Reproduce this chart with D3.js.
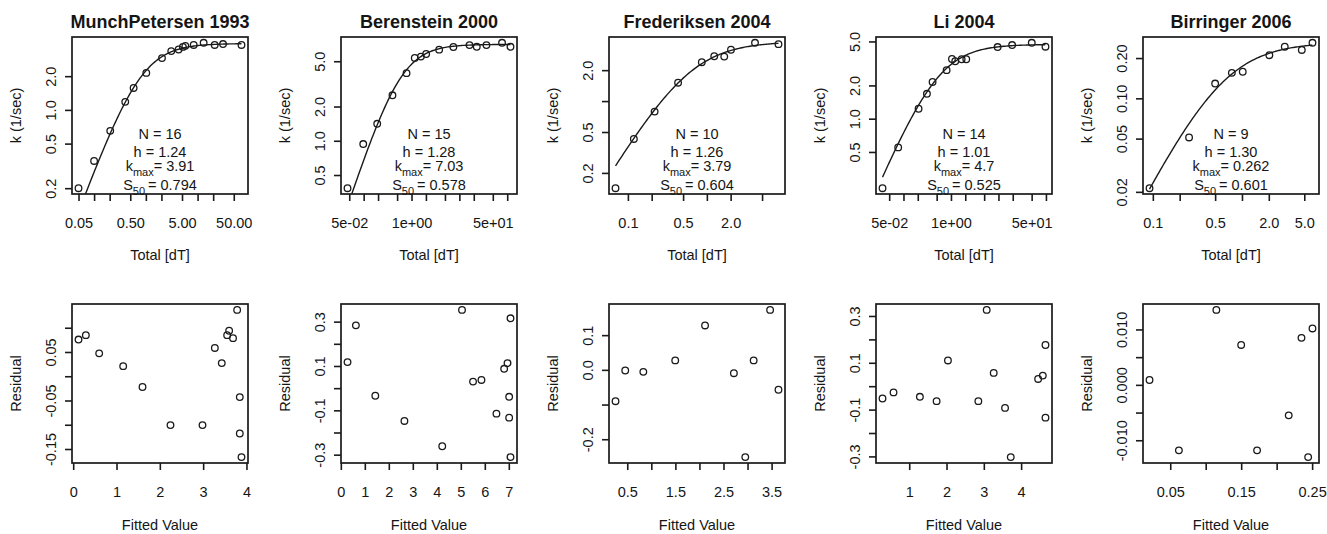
<!DOCTYPE html>
<html>
<head>
<meta charset="utf-8">
<script src="https://cdn.jsdelivr.net/npm/d3@7"></script>
<style>
  body { margin: 0; background: #fff; }
  text { font-family: "Liberation Sans", Arial, Helvetica, sans-serif; fill: #151515; }
</style>
</head>
<body>
<svg id="chart"></svg>
<script>
// Hill fits per study: k vs total dT (top row) and residuals vs fitted (bottom row)

const studies = ["MunchPetersen 1993", "Berenstein 2000", "Frederiksen 2004", "Li 2004", "Birringer 2006"];

// top row: measured rate k against total [dT]
const totalDT = [
  [0.05, 0.1, 0.205, 0.4, 0.58, 1.02, 2.05, 3.1, 4.3, 5.2, 5.8, 8.4, 13.1, 21.4, 31, 70.5],
  [0.046, 0.098, 0.192, 0.40, 0.787, 1.17, 1.57, 2.02, 3.78, 7.5, 16.3, 23.1, 36.8, 78, 117],
  [0.0697, 0.119, 0.218, 0.432, 0.863, 1.24, 1.66, 2.02, 4.07, 8.07],
  [0.0362, 0.0774, 0.208, 0.312, 0.41, 0.81, 1.05, 1.23, 1.68, 2.1, 9.6, 19.4, 50.3, 97.8],
  [0.0918, 0.255, 0.5, 0.77, 1.02, 2.03, 3.02, 4.69, 6.18]
];
const rateK = [
  [0.2, 0.35, 0.65, 1.18, 1.57, 2.14, 2.9, 3.35, 3.46, 3.65, 3.73, 3.8, 3.97, 3.8, 3.87, 3.8],
  [0.383, 0.936, 1.41, 2.51, 3.93, 5.35, 5.49, 5.79, 6.32, 6.67, 6.93, 6.7, 6.93, 7.26, 6.7],
  [0.142, 0.428, 0.79, 1.51, 2.39, 2.73, 2.71, 3.16, 3.69, 3.58],
  [0.235, 0.55, 1.23, 1.68, 2.15, 2.75, 3.47, 3.31, 3.45, 3.45, 4.45, 4.64, 4.86, 4.48],
  [0.0213, 0.051, 0.129, 0.155, 0.158, 0.21, 0.243, 0.23, 0.26]
];

// fit parameters as printed
const fitN = ["16", "15", "10", "14", "9"];
const fitH = ["1.24", "1.28", "1.26", "1.01", "1.30"];
const fitKmax = ["3.91", "7.03", "3.79", "4.7", "0.262"];
const fitS50 = ["0.794", "0.578", "0.604", "0.525", "0.601"];

// bottom row: residual against fitted value
const fittedVal = [
  [0.123, 0.292, 0.6, 1.154, 1.6, 2.246, 2.985, 3.27, 3.43, 3.554, 3.6, 3.69, 3.785, 3.846, 3.846, 3.885],
  [0.279, 0.628, 1.437, 2.65, 4.226, 5.05, 5.51, 5.86, 6.485, 6.806, 6.946, 7.015, 7.015, 7.07, 7.07],
  [0.256, 0.458, 0.834, 1.497, 2.117, 2.716, 2.953, 3.127, 3.469, 3.643],
  [0.284, 0.579, 1.286, 1.734, 2.038, 2.853, 3.077, 3.265, 3.569, 3.722, 4.456, 4.581, 4.653, 4.653],
  [0.0208, 0.0622, 0.115, 0.150, 0.1724, 0.217, 0.235, 0.2444, 0.2505]
];
const residVal = [
  [0.0757, 0.0847, 0.0472, 0.0208, -0.0222, -0.1007, -0.1007, 0.0583, 0.0271, 0.0847, 0.0938, 0.0785, 0.1368, -0.043, -0.118, -0.1667],
  [0.1176, 0.2833, -0.0343, -0.148, -0.262, 0.353, 0.0295, 0.037, -0.115, 0.0872, 0.113, -0.039, -0.133, 0.315, -0.311],
  [-0.0903, -0.0019, -0.0058, 0.0272, 0.128, -0.0097, -0.2515, 0.0272, 0.1728, -0.0573],
  [-0.0525, -0.0266, -0.0453, -0.064, 0.110, -0.064, 0.326, 0.0568, -0.0928, -0.303, 0.031, 0.0453, 0.176, -0.1345],
  [0.00088, -0.01182, 0.01353, 0.0072, -0.01182, -0.0055, 0.00848, -0.01304, 0.01018]
];

// ticks ("" = tick without label, as R drops overlapping labels)
const kXTicks = [
  [0.05, 0.1, 0.2, 0.5, 1, 2, 5, 10, 20, 50],
  [0.05, 0.1, 0.2, 0.5, 1, 2, 5, 10, 20, 50, 100],
  [0.1, 0.2, 0.5, 1, 2, 5],
  [0.05, 0.1, 0.2, 0.5, 1, 2, 5, 10, 20, 50, 100],
  [0.1, 0.2, 0.5, 1, 2, 5]
];
const kXLabels = [
  ["0.05", "", "", "0.50", "", "", "5.00", "", "", "50.00"],
  ["5e-02", "", "", "", "1e+00", "", "", "", "", "5e+01", ""],
  ["0.1", "", "0.5", "", "2.0", ""],
  ["5e-02", "", "", "", "1e+00", "", "", "", "", "5e+01", ""],
  ["0.1", "", "0.5", "", "2.0", "5.0"]
];
const kYTicks = [[0.2, 0.5, 1, 2], [0.5, 1, 2, 5], [0.2, 0.5, 1, 2], [0.5, 1, 2, 5], [0.02, 0.05, 0.1, 0.2]];
const kYLabels = [
  ["0.2", "0.5", "1.0", "2.0"],
  ["0.5", "1.0", "2.0", "5.0"],
  ["0.2", "0.5", "", "2.0"],
  ["0.5", "1.0", "2.0", "5.0"],
  ["0.02", "0.05", "0.10", "0.20"]
];
const rXTicks = [[0, 1, 2, 3, 4], [0, 1, 2, 3, 4, 5, 6, 7], [0.5, 1, 1.5, 2, 2.5, 3, 3.5], [1, 2, 3, 4], [0.05, 0.1, 0.15, 0.2, 0.25]];
const rXLabels = [
  ["0", "1", "2", "3", "4"],
  ["0", "1", "2", "3", "4", "5", "6", "7"],
  ["0.5", "", "1.5", "", "2.5", "", "3.5"],
  ["1", "2", "3", "4"],
  ["0.05", "", "0.15", "", "0.25"]
];
const rYTicks = [
  [-0.15, -0.1, -0.05, 0, 0.05, 0.1],
  [-0.3, -0.2, -0.1, 0, 0.1, 0.2, 0.3],
  [-0.2, -0.1, 0, 0.1],
  [-0.3, -0.2, -0.1, 0, 0.1, 0.2, 0.3],
  [-0.01, -0.005, 0, 0.005, 0.01]
];
const rYLabels = [
  ["-0.15", "", "-0.05", "", "0.05", ""],
  ["-0.3", "", "-0.1", "", "0.1", "", "0.3"],
  ["-0.2", "", "0.0", "0.1"],
  ["-0.3", "", "-0.1", "", "0.1", "", "0.3"],
  ["-0.010", "", "0.000", "", "0.010"]
];

// layout
const width = 1327, height = 534;
const panelX = [72, 341, 609, 876, 1143];
const plotW = 176;
const rowTop = [37, 304], rowBottom = [194, 463];
const ink = "#1a1a1a";
const fontSize = 14.5;

const svg = d3.select("#chart").attr("width", width).attr("height", height);
const defs = svg.append("defs");

// R-style 4% axis extension
function padLog(vals) {
  const [a, b] = d3.extent(vals).map(Math.log10);
  const d = 0.04 * (b - a);
  return [Math.pow(10, a - d), Math.pow(10, b + d)];
}
function padLin(vals) {
  const [a, b] = d3.extent(vals);
  const d = 0.04 * (b - a);
  return [a - d, b + d];
}

function hill(x, kmax, h, s50) {
  return kmax * Math.pow(x, h) / (Math.pow(s50, h) + Math.pow(x, h));
}

function drawAxes(x, y, row, xt, xl, yt, yl) {
  const left = x.range()[0];
  svg.append("g")
    .attr("transform", "translate(0," + rowBottom[row] + ")")
    .call(d3.axisBottom(x).tickValues(xt).tickFormat((d, j) => xl[j]).tickSize(7).tickPadding(17))
    .call(g => g.select(".domain").remove())
    .attr("font-size", fontSize)
    .attr("font-family", null)
    .style("color", ink)
    .call(g => g.selectAll("line").attr("stroke-width", 1.6));

  svg.append("g")
    .attr("transform", "translate(" + left + ",0)")
    .call(d3.axisLeft(y).tickValues(yt).tickFormat((d, j) => yl[j]).tickSize(7))
    .call(g => g.select(".domain").remove())
    .attr("font-size", fontSize)
    .attr("font-family", null)
    .style("color", ink)
    .call(g => g.selectAll("line").attr("stroke-width", 1.6))
    .call(g => g.selectAll("text")
      .attr("transform", "rotate(-90)")
      .attr("x", 0)
      .attr("y", -16)
      .attr("dy", null)
      .attr("text-anchor", "middle"));
}

function drawBox(left, row) {
  svg.append("rect")
    .attr("x", left)
    .attr("y", rowTop[row])
    .attr("width", plotW)
    .attr("height", rowBottom[row] - rowTop[row])
    .attr("fill", "none")
    .attr("stroke", ink)
    .attr("stroke-width", 1.7);
}

function drawPoints(xs, ys, x, y) {
  svg.append("g").selectAll("circle")
    .data(xs)
    .join("circle")
    .attr("cx", d => x(d))
    .attr("cy", (d, j) => y(ys[j]))
    .attr("r", 3.3)
    .attr("fill", "none")
    .attr("stroke", ink)
    .attr("stroke-width", 1.3);
}

function axisTitles(left, row, xTitle, yTitle, xBase) {
  const mid = left + plotW / 2;
  svg.append("text")
    .attr("x", mid)
    .attr("y", xBase)
    .attr("text-anchor", "middle")
    .attr("font-size", fontSize)
    .text(xTitle);
  const yMid = (rowTop[row] + rowBottom[row]) / 2;
  svg.append("text")
    .attr("transform", "translate(" + (left - 51) + "," + yMid + ")rotate(-90)")
    .attr("text-anchor", "middle")
    .attr("font-size", fontSize)
    .text(yTitle);
}

studies.forEach((name, i) => {
  const left = panelX[i];
  const mid = left + plotW / 2;

  // ---- top: k vs total
  const x = d3.scaleLog().domain(padLog(totalDT[i])).range([left, left + plotW]);
  const y = d3.scaleLog().domain(padLog(rateK[i])).range([rowBottom[0], rowTop[0]]);

  defs.append("clipPath").attr("id", "clip" + i)
    .append("rect")
    .attr("x", left).attr("y", rowTop[0])
    .attr("width", plotW).attr("height", rowBottom[0] - rowTop[0]);

  // fitted Hill curve over the data range
  const [lo, hi] = d3.extent(totalDT[i]).map(Math.log10);
  const kmax = +fitKmax[i], h = +fitH[i], s50 = +fitS50[i];
  const curveX = d3.range(0, 121).map(j => Math.pow(10, lo + (hi - lo) * j / 120));
  svg.append("path")
    .datum(curveX)
    .attr("clip-path", "url(#clip" + i + ")")
    .attr("fill", "none")
    .attr("stroke", ink)
    .attr("stroke-width", 1.4)
    .attr("d", d3.line()
      .x(d => x(d))
      .y(d => y(hill(d, kmax, h, s50))));

  drawPoints(totalDT[i], rateK[i], x, y);
  drawBox(left, 0);
  drawAxes(x, y, 0, kXTicks[i], kXLabels[i], kYTicks[i], kYLabels[i]);
  axisTitles(left, 0, "Total [dT]", "k (1/sec)", 260);

  svg.append("text")
    .attr("x", mid)
    .attr("y", 28)
    .attr("text-anchor", "middle")
    .attr("font-size", 18)
    .attr("font-weight", "bold")
    .text(name);

  // annotation block
  const ann = svg.append("g").attr("font-size", fontSize).attr("text-anchor", "middle");
  ann.append("text").attr("x", mid).attr("y", 139).text("N = " + fitN[i]);
  ann.append("text").attr("x", mid).attr("y", 157).text("h = " + fitH[i]);
  const tk = ann.append("text").attr("x", mid).attr("y", 171);
  tk.append("tspan").text("k");
  tk.append("tspan").attr("font-size", 11).attr("dy", 5).text("max");
  tk.append("tspan").attr("dy", -5).text("= " + fitKmax[i]);
  const ts = ann.append("text").attr("x", mid).attr("y", 190);
  ts.append("tspan").text("S");
  ts.append("tspan").attr("font-size", 11).attr("dy", 5).text("50");
  ts.append("tspan").attr("dy", -5).text("\u2009= " + fitS50[i]);

  // ---- bottom: residual vs fitted
  const rx = d3.scaleLinear().domain(padLin(fittedVal[i])).range([left, left + plotW]);
  const ry = d3.scaleLinear().domain(padLin(residVal[i])).range([rowBottom[1], rowTop[1]]);
  drawPoints(fittedVal[i], residVal[i], rx, ry);
  drawBox(left, 1);
  drawAxes(rx, ry, 1, rXTicks[i], rXLabels[i], rYTicks[i], rYLabels[i]);
  axisTitles(left, 1, "Fitted Value", "Residual", 530);
});
</script>
</body>
</html>
